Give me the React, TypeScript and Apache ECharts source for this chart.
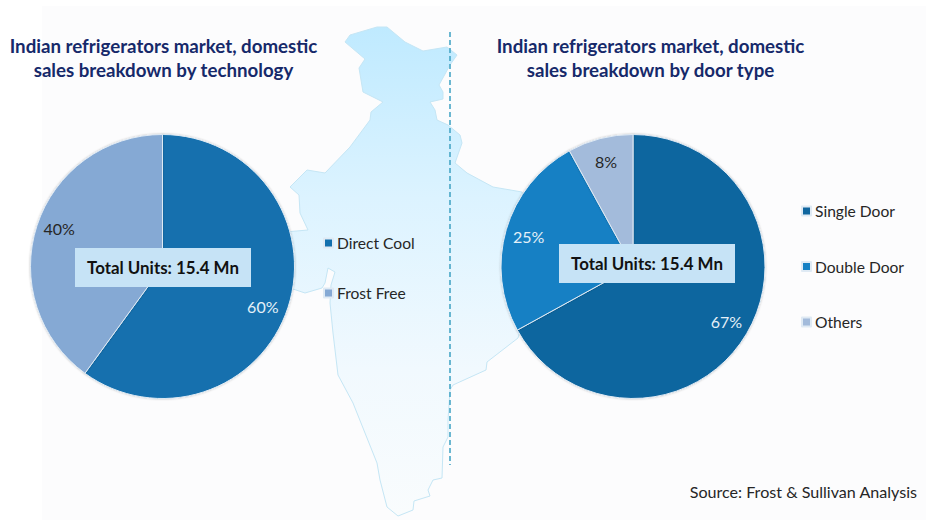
import React, { useEffect, useRef } from "react";
import * as echarts from "echarts";

const FONT = "Lato, 'Noto Sans', sans-serif";

const techNames = ["Direct Cool", "Frost Free"];
const techValues = [60, 40];
const techColors = ["#1270ae", "#85a9d4"];
const techLabelColors = ["#e4f0f8", "#262626"];

const doorNames = ["Single Door", "Double Door", "Others"];
const doorValues = [67, 25, 8];
const doorColors = ["#10669f", "#1580c4", "#a3bbdb"];
const doorLabelColors = ["#e4f0f8", "#e4f0f8", "#262626"];

const titleLeft = "Indian refrigerators market, domestic\nsales breakdown by technology";
const titleRight = "Indian refrigerators market, domestic\nsales breakdown by door type";
const totalLabel = "Total Units: 15.4 Mn";
const sourceLabel = "Source: Frost & Sullivan Analysis";

const indiaOutline: number[][] = [
  [345, 42], [350, 35], [377, 27], [387, 27], [405, 42], [423, 51], [447, 47], [457, 55],
  [450, 65], [439, 85], [443, 92], [443, 99], [430, 102], [435, 110], [437, 120], [448, 125],
  [460, 135], [462, 143], [455, 163], [467, 173], [493, 187], [522, 192], [540, 260], [518, 338],
  [487, 362], [486, 370], [453, 385], [450, 390], [448, 420], [448, 437], [443, 447], [442, 478],
  [433, 480], [428, 490], [430, 496], [414, 501], [413, 510], [398, 516], [387, 507], [380, 480],
  [377, 463], [353, 403], [338, 375], [333, 333], [330, 303], [331, 285], [335, 272], [328, 268],
  [325, 283], [322, 288], [305, 293], [293, 289], [285, 280], [285, 232], [308, 230], [300, 213],
  [299, 195], [290, 187], [307, 170], [325, 173], [350, 147], [370, 120], [371, 112], [383, 102],
  [363, 92], [359, 68], [365, 59],
];

const indiaPath = "M" + indiaOutline.map((p) => p.join(" ")).join("L") + "Z";

const R = 132;
const LABEL_RATIO = 0.8;

function pieSeries(
  names: string[],
  values: number[],
  colors: string[],
  labelColors: string[],
  center: number[],
  nudges: number[][],
) {
  const total = values.reduce((a, b) => a + b, 0);
  return {
    type: "pie",
    center,
    radius: R,
    startAngle: 90,
    clockwise: true,
    data: names.map((name, i) => ({
      name,
      value: values[i],
      itemStyle: { color: colors[i] },
      label: { color: labelColors[i] },
    })),
    itemStyle: {
      borderColor: "#dfeaf4",
      borderWidth: 1,
      shadowBlur: 2,
      shadowColor: "rgba(0,0,0,0.25)",
    },
    label: {
      show: true,
      position: "inside",
      formatter: "{c}%",
      fontFamily: FONT,
      fontSize: 16,
    },
    labelLine: { show: false },
    labelLayout: (params: any) => {
      const before = values.slice(0, params.dataIndex).reduce((a, b) => a + b, 0);
      const mid = ((before + values[params.dataIndex] / 2) / total) * Math.PI * 2;
      const extra = (LABEL_RATIO - 0.5) * R;
      const nudge = nudges[params.dataIndex];
      return { dx: Math.sin(mid) * extra + nudge[0], dy: -Math.cos(mid) * extra + nudge[1] };
    },
    emphasis: { disabled: true },
  };
}

function legend(names: string[], left: number, top: number, itemGap: number) {
  return {
    data: names,
    orient: "vertical",
    left,
    top,
    itemGap,
    itemWidth: 9,
    itemHeight: 9,
    icon: "rect",
    padding: 0,
    selectedMode: false,
    textStyle: { fontFamily: FONT, fontSize: 15.6, color: "#262626", padding: [1, 0, 0, -1] },
  };
}

function totalBox(x: number, y: number) {
  return [
    {
      type: "rect",
      z: 10,
      shape: { x, y, width: 176, height: 39 },
      style: { fill: "#c6e3f6" },
    },
    {
      type: "text",
      z: 11,
      x: x + 88,
      y: y + 19.5,
      style: {
        text: totalLabel,
        fill: "#111111",
        font: `bold 16.9px ${FONT}`,
        textAlign: "center",
        textVerticalAlign: "middle",
      },
    },
  ];
}

export default function App() {
  const ref = useRef<HTMLDivElement>(null);
  useEffect(() => {
    echarts.graphic.registerShape("indiaMap", echarts.graphic.extendPath(indiaPath, {}) as any);
    const chart = echarts.init(ref.current!, undefined, { renderer: "svg" });
    const titleStyle = { fontFamily: FONT, fontSize: 18.7, fontWeight: "bold", color: "#16296a", lineHeight: 24 };
    chart.setOption({
      animation: false,
      backgroundColor: "#ffffff",
      title: [
        { text: titleLeft, left: 163.5, top: 34, textAlign: "center", padding: 0, textStyle: titleStyle },
        { text: titleRight, left: 650.5, top: 34, textAlign: "center", padding: 0, textStyle: titleStyle },
      ],
      legend: [legend(techNames, 323, 235, 34), legend(doorNames, 801, 203, 39.5)],
      series: [
        pieSeries(techNames, techValues, techColors, techLabelColors, [162.5, 266.5], [[-3, 6], [0, -4]]),
        pieSeries(doorNames, doorValues, doorColors, doorLabelColors, [633, 266.5], [[0, 0], [0, 0], [0, 0]]),
      ],
      graphic: [
        {
          type: "rect",
          z: -2,
          silent: true,
          shape: { x: 42, y: 6, width: 884, height: 514 },
          style: { fill: "#fcfcfd" },
        },
        {
          type: "indiaMap",
          z: -1,
          silent: true,
          style: {
            fill: new echarts.graphic.LinearGradient(0, 0, 0, 1, [
              { offset: 0, color: "#bfeaff" },
              { offset: 0.35, color: "#dcf3ff" },
              { offset: 0.7, color: "#f1f9fe" },
              { offset: 1, color: "#f9fcfd" },
            ]),
            stroke: "#c5e6f5",
            lineWidth: 1,
          },
        },
        {
          type: "line",
          z: 1,
          silent: true,
          shape: { x1: 450, y1: 32, x2: 450, y2: 465 },
          style: { stroke: "#46a6c6", lineWidth: 1.6, lineDash: [5, 3] },
        },
        ...totalBox(75, 248),
        ...totalBox(559, 244),
        {
          type: "text",
          z: 5,
          x: 917,
          y: 491,
          style: {
            text: sourceLabel,
            fill: "#262626",
            font: `16.1px ${FONT}`,
            textAlign: "right",
            textVerticalAlign: "middle",
          },
        },
      ],
    });
    return () => chart.dispose();
  }, []);
  return <div ref={ref} style={{ position: "absolute", left: 0, top: 0, width: 926, height: 522 }} />;
}
